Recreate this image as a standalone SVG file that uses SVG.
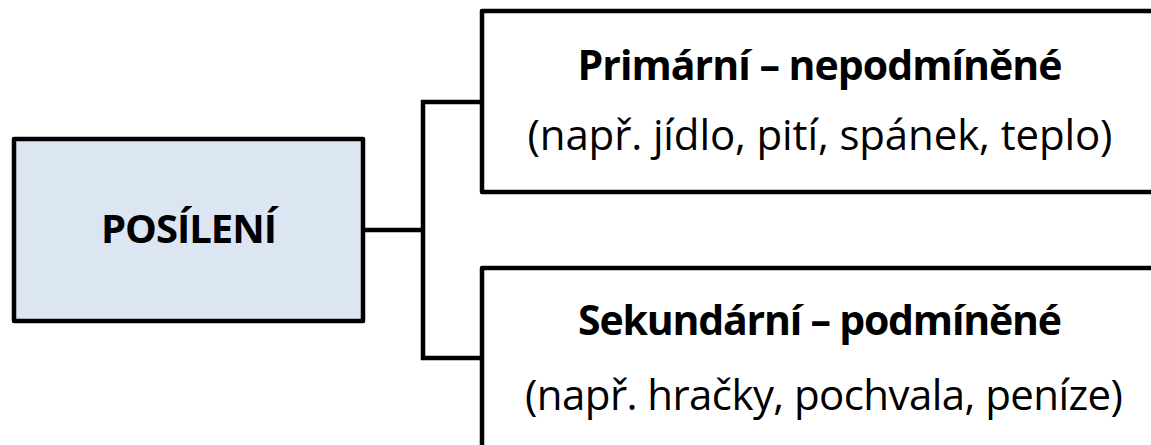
<svg xmlns="http://www.w3.org/2000/svg" width="1151" height="445" viewBox="0 0 1151 445">
<style>
.box{stroke:#000;stroke-width:4.5;stroke-linejoin:round}
.conn{fill:none;stroke:#000;stroke-width:4.5;stroke-linejoin:miter}
.b{font-family:"Open Sans","Liberation Sans",sans-serif;font-weight:bold;font-size:41px;fill:#000;text-anchor:middle}
.r{font-family:"Open Sans","Liberation Sans",sans-serif;font-size:42px;fill:#000;text-anchor:middle}
</style>
<rect width="1151" height="445" fill="#fff"/>
<g id="connectors">
<path class="conn" d="M482,102 H423 V358 H482 M363,230 H423"/>
</g>
<g id="posileni">
<rect class="box" x="14" y="139" width="349" height="182" fill="#dce6f2"/>
<text class="b" x="189" y="243" textLength="176" style="font-size:40px">POSÍLENÍ</text>
</g>
<g id="primarni">
<rect class="box" x="482" y="11" width="700" height="181" fill="#fff"/>
<text class="b" x="820" y="80" textLength="485">Primární – nepodmíněné</text>
<text class="r" x="820" y="150" textLength="585">(např. jídlo, pití, spánek, teplo)</text>
</g>
<g id="sekundarni">
<rect class="box" x="482" y="268" width="700" height="200" fill="#fff"/>
<text class="b" x="820" y="335" textLength="484">Sekundární – podmíněné</text>
<text class="r" x="824" y="410" textLength="598">(např. hračky, pochvala, peníze)</text>
</g>
</svg>
